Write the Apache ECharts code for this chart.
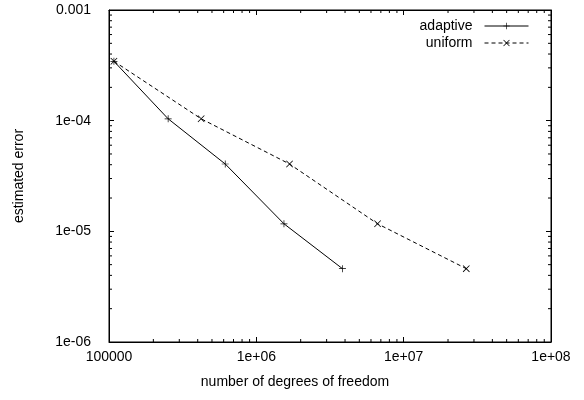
<!DOCTYPE html>
<html>
<head>
<meta charset="utf-8">
<script src="https://cdn.jsdelivr.net/npm/echarts@6/dist/echarts.min.js"></script>
<style>
  html, body { margin: 0; padding: 0; background: #fff; }
  #chart { width: 584px; height: 400px; }
</style>
</head>
<body>
<div id="chart"></div>
<script>
// values
const adaptiveDofs = [1.08e5, 2.52e5, 6.15e5, 1.54e6, 3.84e6];
const adaptiveErr = [3.44e-4, 1.04e-4, 4.06e-5, 1.17e-5, 4.6e-6];
const uniformDofs = [1.08e5, 4.22e5, 1.68e6, 6.65e6, 2.66e7];
const uniformErr = [3.44e-4, 1.04e-4, 4.06e-5, 1.17e-5, 4.6e-6];

const xTickLabels = ['100000', '1e+06', '1e+07', '1e+08'];
const yTickLabels = ['1e-06', '1e-05', '1e-04', '0.001'];

// gnuplot-style minor ticks
const xMinorTicks = [2e5, 3e5, 4e5, 5e5, 6e5, 7e5, 8e5, 9e5,
  2e6, 3e6, 4e6, 5e6, 6e6, 7e6, 8e6, 9e6,
  2e7, 3e7, 4e7, 5e7, 6e7, 7e7, 8e7, 9e7];
const yMinorTicks = [2e-6, 3e-6, 4e-6, 5e-6, 6e-6, 7e-6, 8e-6, 9e-6,
  2e-5, 3e-5, 4e-5, 5e-5, 6e-5, 7e-5, 8e-5, 9e-5,
  2e-4, 3e-4, 4e-4, 5e-4, 6e-4, 7e-4, 8e-4, 9e-4];

const X_MIN = 1e5, X_MAX = 1e8, Y_MIN = 1e-6, Y_MAX = 1e-3;
const font = "'Liberation Sans', Arial, sans-serif";

// symbole + et x en chemins pleins
const plusSymbol = 'path://M0,4.5H10V5.5H0Z M4.5,0H5.5V10H4.5Z';
const crossSymbol = 'path://M0,0.8L0.8,0L10,9.2L9.2,10Z M9.2,0L10,0.8L0.8,10L0,9.2Z';

const chart = echarts.init(document.getElementById('chart'));

const tickStyle = { stroke: '#000', lineWidth: 1 };
const MINOR = 3;

const option = {
  animation: false,
  textStyle: { fontFamily: font },
  grid: {
    left: 109, right: 33, top: 10, bottom: 58,
    show: true, borderColor: '#000', borderWidth: 1
  },
  legend: {
    data: ['adaptive', 'uniform'],
    orient: 'vertical',
    align: 'right',
    right: 50,
    top: 14,
    itemWidth: 44,
    itemHeight: 8,
    itemGap: 3,
    lineStyle: { width: 1 },
    textStyle: { fontSize: 14, color: '#000', fontFamily: font, padding: [0, 7, 0, 0] }
  },
  xAxis: [
    {
      type: 'log', min: X_MIN, max: X_MAX, logBase: 10,
      name: 'number of degrees of freedom',
      nameLocation: 'middle', nameGap: 33,
      nameTextStyle: { fontSize: 14, color: '#000', fontFamily: font, padding: [0, 70, 0, 0] },
      axisLine: { show: true, lineStyle: { color: '#000', width: 1 } },
      axisTick: { inside: true, length: 5, lineStyle: { color: '#000' } },
      axisLabel: {
        fontSize: 14, color: '#000', margin: 8,
        formatter: v => xTickLabels[Math.round(Math.log10(v)) - 5]
      },
      splitLine: { show: false }
    },
    {
      type: 'log', min: X_MIN, max: X_MAX, logBase: 10, position: 'top',
      axisLine: { show: true, lineStyle: { color: '#000', width: 1 } },
      axisTick: { inside: true, length: 5, lineStyle: { color: '#000' } },
      axisLabel: { show: false },
      splitLine: { show: false }
    }
  ],
  yAxis: [
    {
      type: 'log', min: Y_MIN, max: Y_MAX, logBase: 10,
      name: 'estimated error',
      nameLocation: 'middle', nameGap: 83,
      nameTextStyle: { fontSize: 14, color: '#000', fontFamily: font },
      axisLine: { show: true, lineStyle: { color: '#000', width: 1 } },
      axisTick: { inside: true, length: 5, lineStyle: { color: '#000' } },
      axisLabel: {
        fontSize: 14, color: '#000', margin: 18,
        formatter: v => yTickLabels[Math.round(Math.log10(v)) + 6]
      },
      splitLine: { show: false }
    },
    {
      type: 'log', min: Y_MIN, max: Y_MAX, logBase: 10, position: 'right',
      axisLine: { show: true, lineStyle: { color: '#000', width: 1 } },
      axisTick: { inside: true, length: 5, lineStyle: { color: '#000' } },
      axisLabel: { show: false },
      splitLine: { show: false }
    }
  ],
  series: [
    {
      name: 'adaptive',
      type: 'line',
      data: adaptiveDofs.map((d, i) => [d, adaptiveErr[i]]),
      symbol: plusSymbol,
      symbolSize: 7,
      itemStyle: { color: '#000' },
      lineStyle: { color: '#000', width: 1 },
      z: 3
    },
    {
      name: 'uniform',
      type: 'line',
      data: uniformDofs.map((d, i) => [d, uniformErr[i]]),
      symbol: crossSymbol,
      symbolSize: 7,
      itemStyle: { color: '#000' },
      lineStyle: { color: '#000', width: 1, type: [4, 3] },
      z: 3
    },
    {
      // petites graduations en x, haut et bas
      type: 'custom',
      silent: true,
      data: xMinorTicks.map(v => [v, Y_MIN]),
      renderItem(params, api) {
        const v = api.value(0);
        const b = api.coord([v, Y_MIN]);
        const t = api.coord([v, Y_MAX]);
        return {
          type: 'group',
          children: [
            { type: 'line', shape: { x1: b[0], y1: b[1], x2: b[0], y2: b[1] - MINOR }, style: tickStyle },
            { type: 'line', shape: { x1: t[0], y1: t[1], x2: t[0], y2: t[1] + MINOR }, style: tickStyle }
          ]
        };
      }
    },
    {
      // petites graduations en y, gauche et droite
      type: 'custom',
      silent: true,
      data: yMinorTicks.map(v => [X_MIN, v]),
      renderItem(params, api) {
        const v = api.value(1);
        const l = api.coord([X_MIN, v]);
        const r = api.coord([X_MAX, v]);
        return {
          type: 'group',
          children: [
            { type: 'line', shape: { x1: l[0], y1: l[1], x2: l[0] + MINOR, y2: l[1] }, style: tickStyle },
            { type: 'line', shape: { x1: r[0], y1: r[1], x2: r[0] - MINOR, y2: r[1] }, style: tickStyle }
          ]
        };
      }
    }
  ]
};

chart.setOption(option);
</script>
</body>
</html>
